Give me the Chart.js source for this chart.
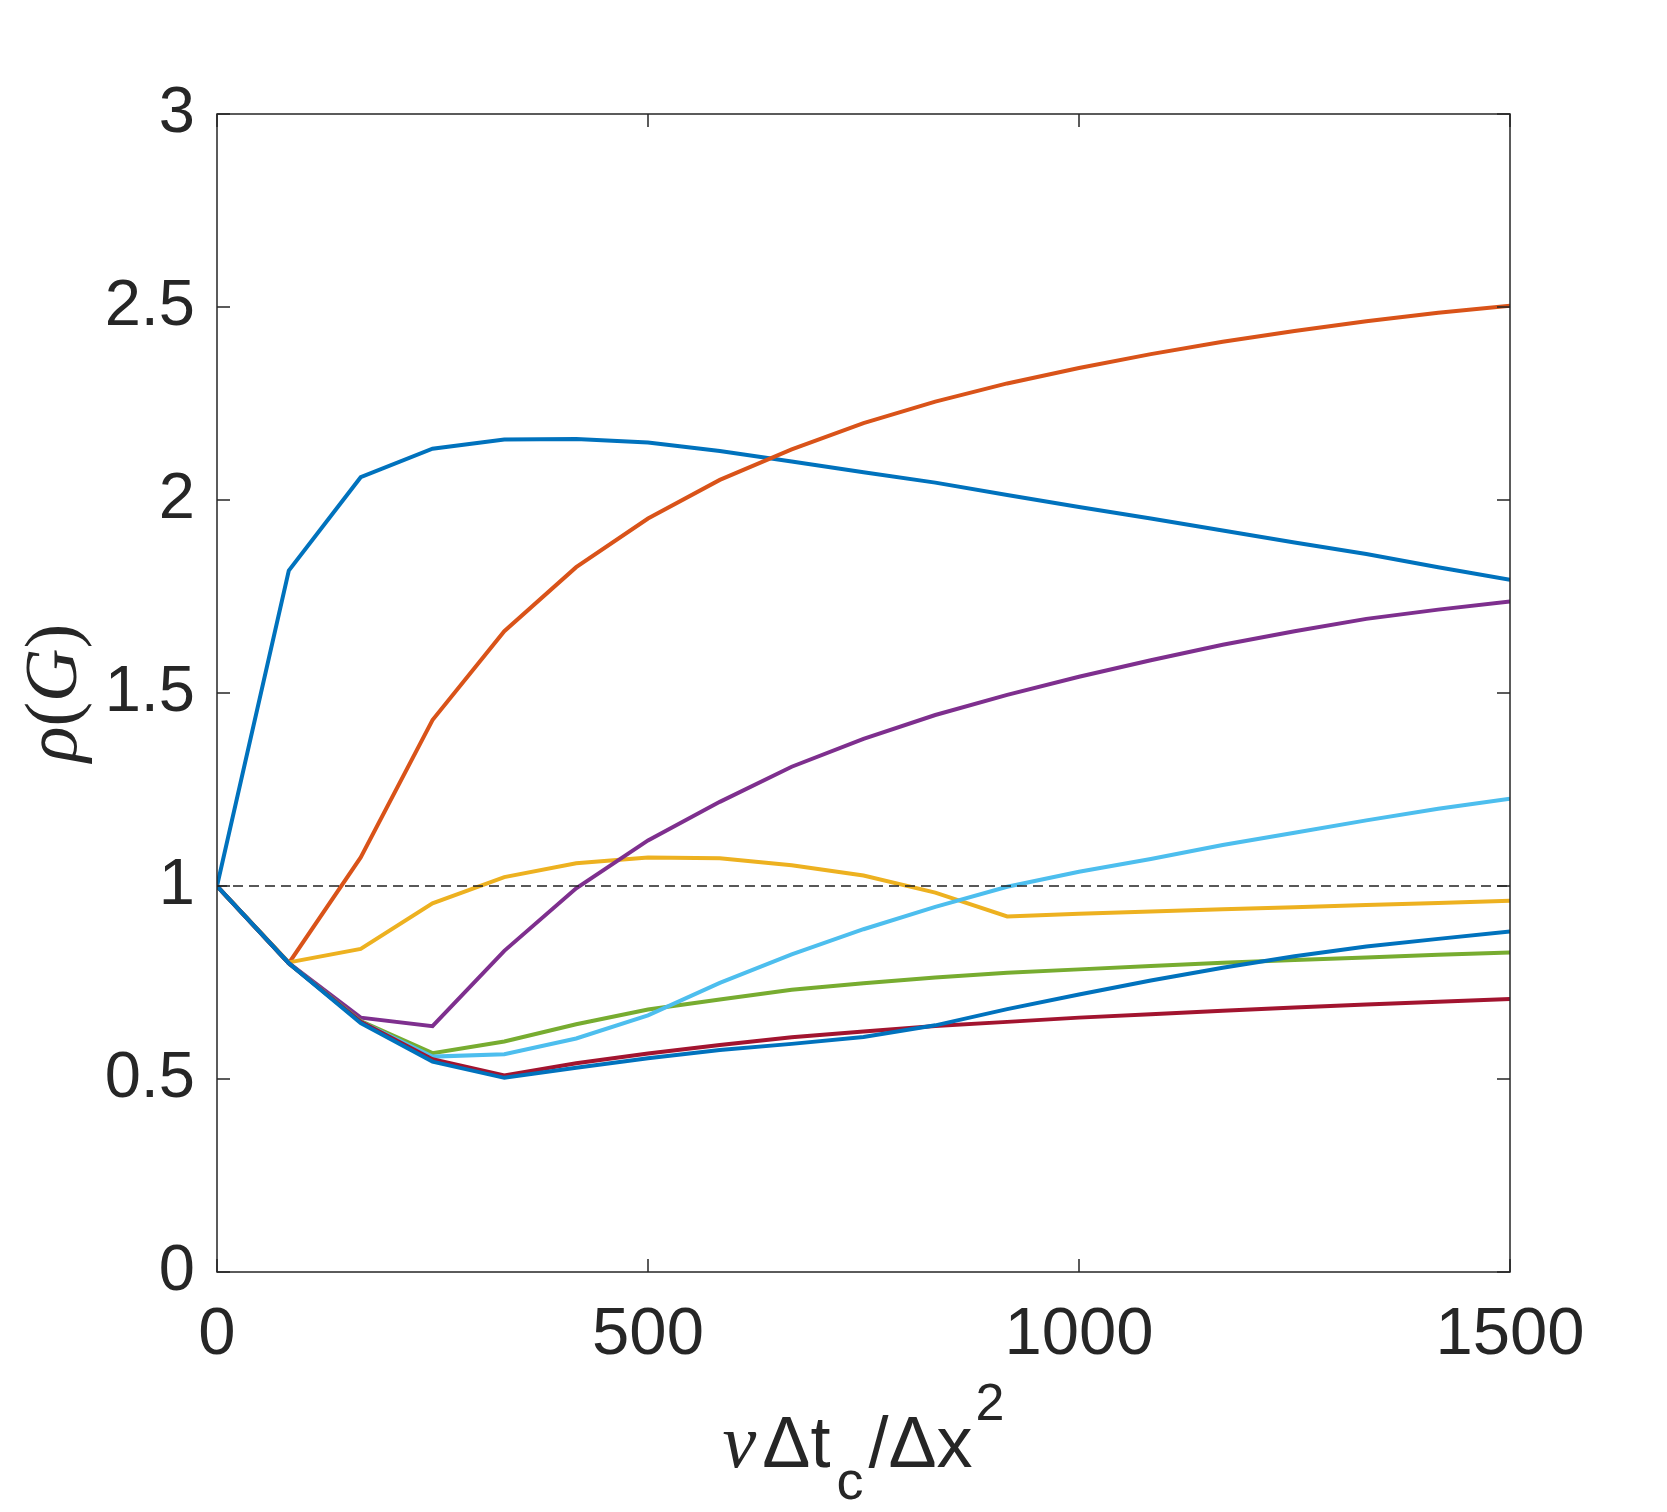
<!DOCTYPE html>
<html>
<head>
<meta charset="utf-8">
<script src="https://cdn.jsdelivr.net/npm/chart.js@4.4.1/dist/chart.umd.min.js"></script>
<style>
  html, body { margin: 0; padding: 0; background: #fff; }
  #wrap { width: 1667px; height: 1512px; }
</style>
</head>
<body>
<div id="wrap"><canvas id="rhoChart" width="1667" height="1512"></canvas></div>
<script>
// nu*dt_c/dx^2 sample positions
const nuDt = [0, 83.3, 166.7, 250, 333.3, 416.7, 500, 583.3, 666.7, 750, 833.3, 916.7, 1000, 1083.3, 1166.7, 1250, 1333.3, 1416.7, 1500];

// spectral radius rho(G), one list per curve
const rho1 = [1, 1.817, 2.059, 2.133, 2.157, 2.158, 2.149, 2.127, 2.100, 2.072, 2.045, 2.013, 1.982, 1.952, 1.921, 1.890, 1.860, 1.826, 1.793];
const rho2 = [1, 0.800, 1.074, 1.430, 1.660, 1.826, 1.952, 2.052, 2.131, 2.199, 2.255, 2.302, 2.342, 2.378, 2.410, 2.438, 2.463, 2.485, 2.503];
const rho3 = [1, 0.802, 0.837, 0.955, 1.023, 1.059, 1.074, 1.072, 1.054, 1.027, 0.983, 0.921, 0.928, 0.934, 0.940, 0.945, 0.951, 0.956, 0.962];
const rho4 = [1, 0.800, 0.659, 0.637, 0.832, 0.994, 1.118, 1.218, 1.309, 1.381, 1.443, 1.495, 1.542, 1.585, 1.625, 1.660, 1.692, 1.716, 1.737];
const rho5 = [1, 0.800, 0.650, 0.567, 0.597, 0.642, 0.680, 0.706, 0.731, 0.748, 0.763, 0.775, 0.784, 0.793, 0.801, 0.808, 0.815, 0.822, 0.828];
const rho6 = [1, 0.800, 0.648, 0.558, 0.564, 0.605, 0.665, 0.749, 0.823, 0.888, 0.946, 0.998, 1.037, 1.070, 1.106, 1.138, 1.170, 1.200, 1.226];
const rho7 = [1, 0.800, 0.648, 0.551, 0.509, 0.541, 0.566, 0.588, 0.608, 0.623, 0.637, 0.648, 0.659, 0.668, 0.677, 0.685, 0.693, 0.700, 0.707];
const rho8 = [1, 0.800, 0.645, 0.545, 0.503, 0.529, 0.554, 0.575, 0.591, 0.609, 0.639, 0.681, 0.719, 0.755, 0.788, 0.818, 0.843, 0.863, 0.882];

// reference line rho = 1
const refX = [0, 1500];
const refY = [1, 1];

const xTicks = [0, 500, 1000, 1500];
const yTicks = [0, 0.5, 1, 1.5, 2, 2.5, 3];

const allSeries = [rho1, rho2, rho3, rho4, rho5, rho6, rho7, rho8];
const colors = ['#0072BD', '#D95319', '#EDB120', '#7E2F8E', '#77AC30', '#4DBEEE', '#A2142F', '#0072BD'];
const axisColor = '#262626';

function toPoints(xs, ys) {
  return xs.map((x, i) => ({ x: x, y: ys[i] }));
}

const datasets = allSeries.map((s, k) => ({
  data: toPoints(nuDt, s),
  borderColor: colors[k],
  borderWidth: 4,
  pointRadius: 0,
  tension: 0,
  fill: false,
  order: allSeries.length - k
}));
datasets.push({
  data: toPoints(refX, refY),
  borderColor: '#222',
  borderWidth: 1.5,
  borderDash: [10, 6],
  pointRadius: 0,
  fill: false,
  order: 0
});

// box, inward ticks and the two axis titles
const decorations = {
  id: 'decorations',
  afterDraw(chart) {
    const ctx = chart.ctx;
    const a = chart.chartArea;
    const xs = chart.scales.x, ys = chart.scales.y;
    const tl = 13;
    ctx.save();
    ctx.strokeStyle = axisColor;
    ctx.lineWidth = 1.5;
    ctx.strokeRect(a.left, a.top, a.right - a.left, a.bottom - a.top);
    ctx.beginPath();
    xTicks.forEach(v => {
      const px = xs.getPixelForValue(v);
      ctx.moveTo(px, a.bottom); ctx.lineTo(px, a.bottom - tl);
      ctx.moveTo(px, a.top); ctx.lineTo(px, a.top + tl);
    });
    yTicks.forEach(v => {
      const py = ys.getPixelForValue(v);
      ctx.moveTo(a.left, py); ctx.lineTo(a.left + tl, py);
      ctx.moveTo(a.right, py); ctx.lineTo(a.right - tl, py);
    });
    ctx.stroke();

    ctx.fillStyle = axisColor;
    ctx.textBaseline = 'alphabetic';

    // y title: rho(G), rotated
    const yParts = [
      ['\u03C1', 'italic 74px "Liberation Serif"'],
      ['(', '74px "Liberation Serif"'],
      ['G', 'italic 74px "Liberation Serif"'],
      [')', '74px "Liberation Serif"']
    ];
    let w = 0;
    yParts.forEach(p => { ctx.font = p[1]; w += ctx.measureText(p[0]).width; });
    ctx.save();
    ctx.translate(76, (a.top + a.bottom) / 2);
    ctx.rotate(-Math.PI / 2);
    let cx = -w / 2;
    yParts.forEach(p => { ctx.font = p[1]; ctx.textAlign = 'left'; ctx.fillText(p[0], cx, 0); cx += ctx.measureText(p[0]).width; });
    ctx.restore();

    // x title: nu Delta t_c / Delta x^2  [text, font, baseline shift, gap after]
    const base = 1467;
    const xParts = [
      ['\u03BD', 'italic 76px "Liberation Serif"', 0, 6],
      ['\u0394t', '72px "Liberation Sans"', 0, 6],
      ['c', '54px "Liberation Sans"', 32, 5],
      ['/\u0394x', '72px "Liberation Sans"', 0, 3],
      ['2', '52px "Liberation Sans"', -47, 0]
    ];
    w = 0;
    xParts.forEach(p => { ctx.font = p[1]; w += ctx.measureText(p[0]).width + p[3]; });
    cx = (a.left + a.right) / 2 - w / 2;
    xParts.forEach(p => {
      ctx.font = p[1]; ctx.textAlign = 'left';
      ctx.fillText(p[0], cx, base + p[2]);
      cx += ctx.measureText(p[0]).width + p[3];
    });
    ctx.restore();
  }
};

new Chart(document.getElementById('rhoChart').getContext('2d'), {
  type: 'line',
  data: { datasets: datasets },
  options: {
    responsive: false,
    animation: false,
    devicePixelRatio: 1,
    layout: { padding: { top: 114, right: 157, left: 0, bottom: 0 } },
    plugins: { legend: { display: false }, tooltip: { enabled: false } },
    scales: {
      x: {
        type: 'linear',
        min: 0, max: 1500,
        afterFit: s => { s.height = 240; },
        afterBuildTicks: s => { s.ticks = xTicks.map(v => ({ value: v })); },
        grid: { display: false, drawTicks: false },
        border: { display: false },
        ticks: {
          color: axisColor,
          font: { family: '"Liberation Sans"', size: 67 },
          padding: 23,
          maxRotation: 0,
          callback: v => String(v)
        }
      },
      y: {
        type: 'linear',
        min: 0, max: 3,
        afterFit: s => { s.width = 217; },
        afterBuildTicks: s => { s.ticks = yTicks.map(v => ({ value: v })); },
        grid: { display: false, drawTicks: false },
        border: { display: false },
        ticks: {
          color: axisColor,
          font: { family: '"Liberation Sans"', size: 65 },
          padding: 22,
          callback: v => String(v)
        }
      }
    }
  },
  plugins: [decorations]
});
</script>
</body>
</html>
